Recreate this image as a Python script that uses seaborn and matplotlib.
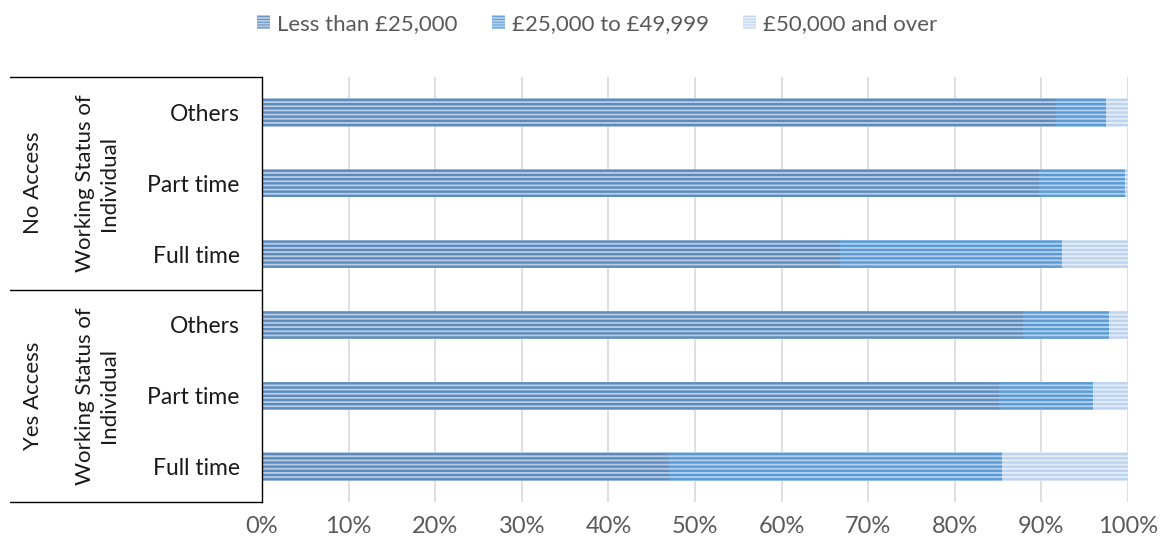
import matplotlib
matplotlib.use("Agg")
import matplotlib.pyplot as plt
import matplotlib.patches as mpatches
import matplotlib.transforms as mtransforms
import numpy as np
import pandas as pd
import seaborn as sns

# Share of individuals by income band (%), per access group and working status
access = ["No Access", "No Access", "No Access", "Yes Access", "Yes Access", "Yes Access"]
status = ["Others", "Part time", "Full time", "Others", "Part time", "Full time"]
less_than_25k = [91.7, 89.7, 66.7, 87.9, 85.1, 47.0]
from_25k_to_50k = [5.8, 10.0, 25.7, 9.9, 10.9, 38.4]
over_50k = [2.5, 0.3, 7.6, 2.2, 4.0, 14.6]

series_names = ["Less than £25,000", "£25,000 to £49,999", "£50,000 and over"]
group_names = ["No Access", "Yes Access"]
group_axis_title = "Working Status of\nIndividual"
x_ticks = [0, 10, 20, 30, 40, 50, 60, 70, 80, 90, 100]
x_tick_labels = [f"{t}%" for t in x_ticks]

sns.set_theme(style="white")
plt.rcParams["font.family"] = ["Lato", "DejaVu Sans"]
plt.rcParams["hatch.linewidth"] = 1.3

face_colors = ["#5c8bbc", "#5b9bd5", "#bdd4ee"]
stripe_colors = ["#b9cee6", "#b3d1ef", "#e4edf8"]
hatch = "----"

df = pd.DataFrame({
    "key": [f"{a}|{s}" for a, s in zip(access, status)],
    "low": less_than_25k,
    "mid": from_25k_to_50k,
    "high": over_50k,
})
df["cum_low"] = df["low"]
df["cum_mid"] = df["low"] + df["mid"]
df["cum_high"] = df["low"] + df["mid"] + df["high"]

fig = plt.figure(figsize=(11.66, 5.41), dpi=100)
ax = fig.add_axes([262 / 1166, 1 - 502 / 541, 866 / 1166, 425 / 541])

# Stacked bars: widest cumulative layer first, narrower layers on top
for col, fc, sc in zip(["cum_high", "cum_mid", "cum_low"], face_colors[::-1], stripe_colors[::-1]):
    n_before = len(ax.patches)
    sns.barplot(data=df, x=col, y="key", orient="h", color=fc, width=0.4,
                saturation=1, ax=ax, order=list(df["key"]))
    for p in ax.patches[n_before:]:
        p.set_facecolor(fc)
        p.set_edgecolor(sc)
        p.set_linewidth(0)
        p.set_hatch(hatch)

ax.set_xlim(0, 100)
ax.set_ylim(5.5, -0.5)
ax.set_xlabel("")
ax.set_ylabel("")
ax.set_xticks(x_ticks)
ax.set_xticklabels(x_tick_labels)
ax.set_yticks(range(len(status)))
ax.set_yticklabels(status)
ax.tick_params(axis="x", length=0, pad=10, labelsize=17, labelcolor="#595959")
ax.tick_params(axis="y", length=0, pad=16, labelsize=16.5, labelcolor="#1a1a1a")

ax.set_axisbelow(True)
ax.grid(axis="x", color="#d9d9d9", linewidth=1.2)
ax.grid(axis="y", visible=False)
for side in ["top", "right", "bottom"]:
    ax.spines[side].set_visible(False)
ax.spines["left"].set_color("#000000")
ax.spines["left"].set_linewidth(1.0)

# Group brackets and labels on the left
trans = mtransforms.blended_transform_factory(ax.transAxes, ax.transData)
x_left = (10 - 262) / 866
for yb in [-0.5, 2.5, 5.5]:
    ax.plot([x_left, 0], [yb, yb], color="#000000", lw=1.0, transform=trans, clip_on=False)
for gi, g in enumerate(group_names):
    yc = gi * 3 + 1
    ax.text((33 - 262) / 866, yc, g, rotation=90, ha="center", va="center",
            fontsize=16, color="#1a1a1a", transform=trans)
    ax.text((97 - 262) / 866, yc, group_axis_title, rotation=90, ha="center", va="center",
            fontsize=16, color="#1a1a1a", transform=trans, linespacing=1.3,
            multialignment="center")

handles = [mpatches.Patch(facecolor=fc, edgecolor=sc, linewidth=0, hatch="------")
           for fc, sc in zip(face_colors, stripe_colors)]
leg = fig.legend(handles, series_names, loc="center", bbox_to_anchor=(0.512, 0.956),
                 ncol=3, frameon=False, fontsize=16, handlelength=0.6, handleheight=0.6,
                 handletextpad=0.3, columnspacing=1.55)
for t in leg.get_texts():
    t.set_color("#595959")

fig.savefig("out.png", dpi=100)
